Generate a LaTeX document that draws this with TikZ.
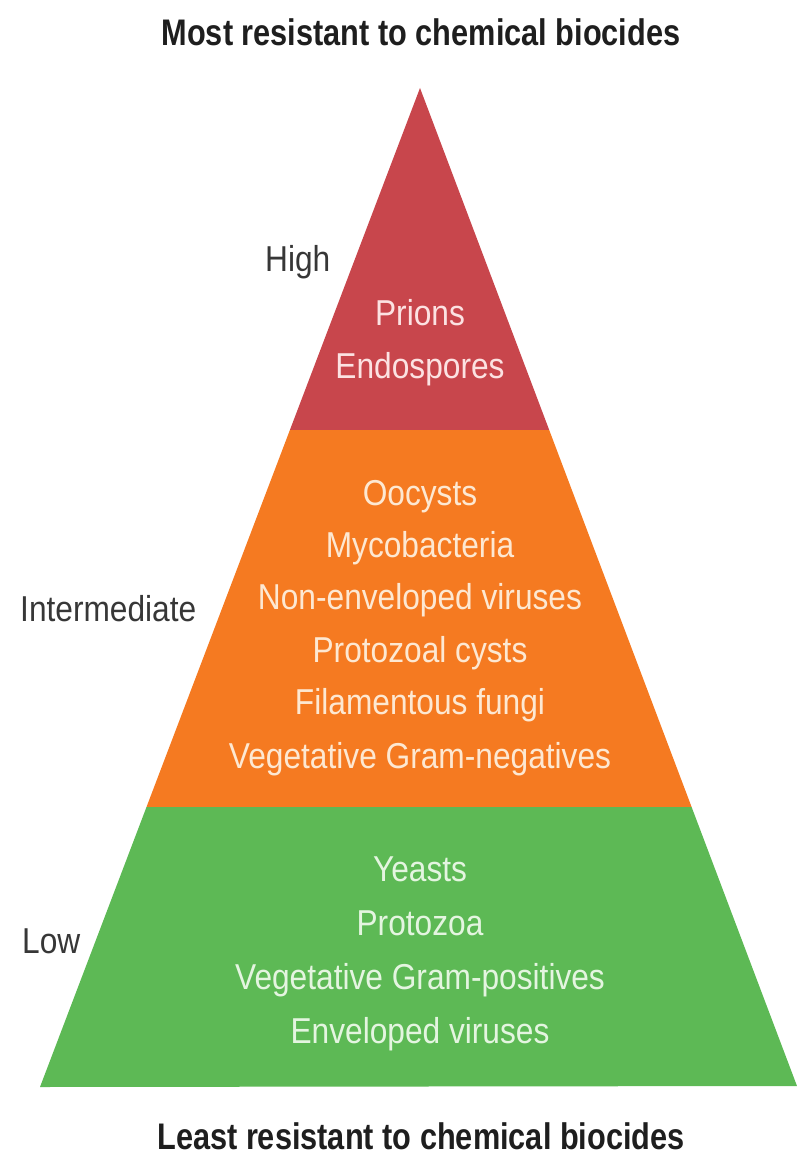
\documentclass[tikz,border=0pt]{standalone}
\usepackage{fontspec}
\setmainfont{Liberation Sans}[FakeStretch=0.88]
\newfontfamily\titlefont{Liberation Sans}[FakeStretch=0.83,BoldFont={Liberation Sans Bold}]
\definecolor{redband}{RGB}{200,70,76}
\definecolor{orangeband}{RGB}{245,122,33}
\definecolor{greenband}{RGB}{93,185,85}
\definecolor{redtext}{RGB}{252,226,226}
\definecolor{orangetext}{RGB}{253,232,210}
\definecolor{greentext}{RGB}{228,245,224}
\definecolor{labelgray}{RGB}{55,55,55}
\definecolor{titlegray}{RGB}{30,30,30}
\tikzset{
  bandtext/.style={anchor=base, inner sep=0pt, font=\fontsize{36}{42}\selectfont},
  sidelabel/.style={anchor=base west, inner sep=0pt, text=labelgray, font=\fontsize{36}{42}\selectfont},
  titletext/.style={anchor=base, inner sep=0pt, text=titlegray, font=\titlefont\bfseries\fontsize{37}{44}\selectfont}
}
\begin{document}
\begin{tikzpicture}[x=1pt,y=-1pt]
\useasboundingbox (0,0) rectangle (797,1161);
% pyramid corners
\coordinate (apex) at (420,88);
\coordinate (rl) at (289.9,430);
\coordinate (rr) at (549.2,430);
\coordinate (ol) at (146.5,807);
\coordinate (or) at (691.6,807);
\coordinate (bl) at (40,1087);
\coordinate (br) at (797,1086);
% bands
\fill[redband] (apex) -- (rr) -- (rl) -- cycle;
\fill[orangeband] (rl) -- (rr) -- (or) -- (ol) -- cycle;
\fill[greenband] (ol) -- (or) -- (br) -- (bl) -- cycle;
% titles
\node[titletext] (top) at (421,46) {Most resistant to chemical biocides};
\node[titletext] (bottom) at (421,1149) {Least resistant to chemical biocides};
% side labels
\node[sidelabel] (high) at (265,271) {High};
\node[sidelabel] (inter) at (20,621) {Intermediate};
\node[sidelabel] (low) at (22,953) {Low};
% red band
\node[bandtext, text=redtext] (prions) at (420,325) {Prions};
\node[bandtext, text=redtext] (endo) at (420,378) {Endospores};
% orange band
\node[bandtext, text=orangetext] (oo) at (420,505) {Oocysts};
\node[bandtext, text=orangetext] (myco) at (420,557) {Mycobacteria};
\node[bandtext, text=orangetext] (nonenv) at (420,609) {Non-enveloped viruses};
\node[bandtext, text=orangetext] (protc) at (420,662) {Protozoal cysts};
\node[bandtext, text=orangetext] (fila) at (420,714) {Filamentous fungi};
\node[bandtext, text=orangetext] (vegneg) at (420,768) {Vegetative Gram-negatives};
% green band
\node[bandtext, text=greentext] (yeasts) at (420,881) {Yeasts};
\node[bandtext, text=greentext] (protozoa) at (420,935) {Protozoa};
\node[bandtext, text=greentext] (vegpos) at (420,989) {Vegetative Gram-positives};
\node[bandtext, text=greentext] (envv) at (420,1043) {Enveloped viruses};
\end{tikzpicture}
\end{document}
